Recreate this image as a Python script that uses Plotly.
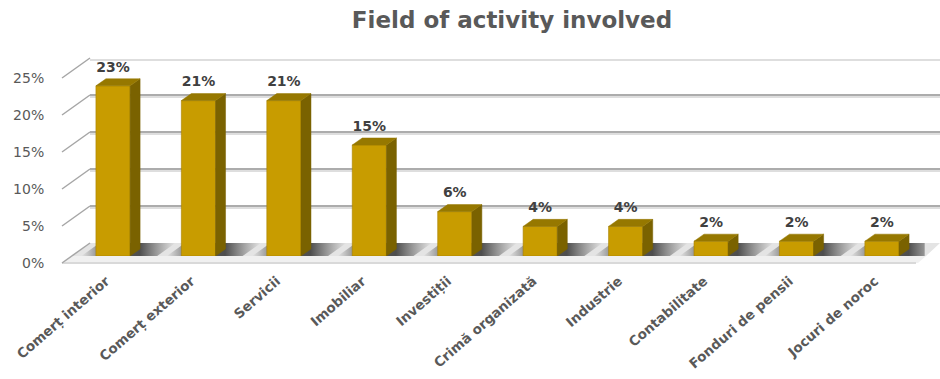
import plotly.graph_objects as go

# ---- data ----
categories = [
    "Comerț interior", "Comerț exterior", "Servicii", "Imobiliar", "Investiții",
    "Crimă organizată", "Industrie", "Contabilitate", "Fonduri de pensii", "Jocuri de noroc",
]
values = [23, 21, 21, 15, 6, 4, 4, 2, 2, 2]
y_ticks = [0, 5, 10, 15, 20, 25]
y_tick_labels = [f"{t}%" for t in y_ticks]
title_text = "Field of activity involved"

# ---- geometry of the pseudo-3D box (pixels) ----
W, H = 940, 379
PX_PER_PCT = 7.4
Y_MAX = 25
BACK_ZERO, BAR_ZERO, FRONT_ZERO = 243, 256, 263
WALL_FRONT_X, WALL_BACK_X = 62, 90
BAR_LEFT, BAR_RIGHT = 70.3, 924.7
HALF_W = 0.2            # half bar width in category units
DEPTH_X = 0.117         # bar depth, category units
DEPTH_Y = 0.95          # bar depth, percent units

FRONT = "#c89c00"
TOP = "#967800"
SIDE = "#7a6200"
TEXT = "#595959"
FONT = "DejaVu Sans"


def fx(x):
    return x / W


def fy(y):
    return 1 - y / H


def ydom(zero):
    return [fy(zero), fy(zero - Y_MAX * PX_PER_PCT)]


xdom_bars = [fx(BAR_LEFT), fx(BAR_RIGHT)]

fig = go.Figure()

# dummy traces so every subplot is created
fig.add_trace(go.Scatter(x=[None], y=[None], xaxis="x", yaxis="y",
                         showlegend=False, hoverinfo="skip"))
fig.add_trace(go.Scatter(x=[None], y=[None], xaxis="x4", yaxis="y4",
                         showlegend=False, hoverinfo="skip"))

# soft floor shadows around each bar base
floor_depth = (BAR_ZERO - BACK_ZERO) / PX_PER_PCT
slant = (BAR_ZERO - BACK_ZERO) * (WALL_BACK_X - WALL_FRONT_X) / (FRONT_ZERO - BACK_ZERO) \
    / ((BAR_RIGHT - BAR_LEFT) / len(categories))
for i, v in enumerate(values):
    x0, x1 = i - HALF_W - 0.17, i + HALF_W + DEPTH_X + 0.2
    fig.add_trace(go.Scatter(
        x=[x0, x1, x1 + slant, x0 + slant, x0],
        y=[0, 0, floor_depth, floor_depth, 0],
        mode="lines", line=dict(width=0), fill="toself",
        fillgradient=dict(type="horizontal", colorscale=[
            [0, "rgba(90,90,90,0)"], [0.28, "rgba(75,75,75,0.9)"],
            [0.62, "rgba(70,70,70,0.95)"], [1, "rgba(90,90,90,0)"]]),
        xaxis="x2", yaxis="y2", showlegend=False, hoverinfo="skip",
    ))

# bar front faces
fig.add_trace(go.Bar(
    x=list(range(len(categories))), y=values, width=2 * HALF_W,
    marker=dict(color=FRONT, line=dict(color="#a88200", width=0.6)),
    xaxis="x3", yaxis="y3", showlegend=False, hoverinfo="skip",
))

# side and top faces
side_x, side_y, top_x, top_y = [], [], [], []
for i, v in enumerate(values):
    r, l = i + HALF_W, i - HALF_W
    side_x += [r, r + DEPTH_X, r + DEPTH_X, r, r, None]
    side_y += [0, DEPTH_Y, v + DEPTH_Y, v, 0, None]
    top_x += [l, r, r + DEPTH_X, l + DEPTH_X, l, None]
    top_y += [v, v, v + DEPTH_Y, v + DEPTH_Y, v, None]
fig.add_trace(go.Scatter(x=side_x, y=side_y, mode="lines", fill="toself",
                         fillcolor=SIDE, line=dict(color=SIDE, width=0.5),
                         xaxis="x3", yaxis="y3", showlegend=False, hoverinfo="skip"))
fig.add_trace(go.Scatter(x=top_x, y=top_y, mode="lines", fill="toself",
                         fillcolor=TOP, line=dict(color=TOP, width=0.5),
                         xaxis="x3", yaxis="y3", showlegend=False, hoverinfo="skip"))

# value labels
fig.add_trace(go.Scatter(
    x=list(range(len(categories))), y=[v + DEPTH_Y + 0.5 for v in values],
    mode="text", text=[f"{v}%" for v in values], textposition="top center",
    textfont=dict(family=FONT, size=14, color="#404040", weight="bold"),
    xaxis="x3", yaxis="y3", showlegend=False, hoverinfo="skip", cliponaxis=False,
))

# ---- floor and left wall ----
shapes = []


def poly(points, fill, line_color=None, line_width=0):
    path = "M " + " L ".join(f"{fx(x)},{fy(y)}" for x, y in points) + " Z"
    return dict(type="path", path=path, xref="paper", yref="paper", layer="below",
                fillcolor=fill, line=dict(color=line_color or fill, width=line_width))


wall_dx = (WALL_BACK_X - WALL_FRONT_X) / (FRONT_ZERO - BACK_ZERO)
top_front_x = WALL_FRONT_X + (FRONT_ZERO - BAR_ZERO) * wall_dx
shapes.append(poly([(top_front_x, BAR_ZERO), (WALL_BACK_X, BACK_ZERO), (W, BACK_ZERO),
                    (W - 14, BAR_ZERO)], "#e4e4e4"))
shapes.append(poly([(WALL_FRONT_X, FRONT_ZERO), (top_front_x, BAR_ZERO), (W - 14, BAR_ZERO),
                    (W - 22, FRONT_ZERO)], "#f0f0f0"))
shapes.append(dict(type="line", xref="paper", yref="paper", layer="below",
                   x0=fx(WALL_FRONT_X), y0=fy(FRONT_ZERO), x1=fx(W - 24), y1=fy(FRONT_ZERO),
                   line=dict(color="#d9d9d9", width=2)))

for t in y_ticks:
    yf = FRONT_ZERO - t * PX_PER_PCT
    yb = BACK_ZERO - t * PX_PER_PCT
    shapes.append(dict(type="line", xref="paper", yref="paper", layer="below",
                       x0=fx(WALL_FRONT_X), y0=fy(yf), x1=fx(WALL_BACK_X), y1=fy(yb),
                       line=dict(color="#a6a6a6", width=1.5)))
    if t > 0:
        shapes.append(dict(type="line", xref="paper", yref="paper", layer="below",
                           x0=fx(WALL_BACK_X), y0=fy(yb + 2), x1=1, y1=fy(yb + 2),
                           line=dict(color="#dedede", width=2)))

hidden = dict(visible=False, fixedrange=True, automargin=False)

fig.update_layout(
    width=W, height=H,
    margin=dict(l=0, r=0, t=0, b=0, autoexpand=False),
    paper_bgcolor="white", plot_bgcolor="rgba(0,0,0,0)",
    showlegend=False,
    title=dict(text=title_text, x=512 / W, xanchor="center", y=fy(20), yanchor="middle",
               yref="container", automargin=False,
               font=dict(family=FONT, size=23, color=TEXT, weight="bold")),
    # back wall with gridlines
    xaxis=dict(domain=[fx(WALL_BACK_X), 1], range=[0, 1], anchor="y", **hidden),
    yaxis=dict(domain=ydom(BACK_ZERO), range=[0, Y_MAX], anchor="x",
               tickvals=y_ticks, showticklabels=False, ticks="",
               showgrid=True, gridcolor="#acacac", gridwidth=2, automargin=False,
               zeroline=False, showline=False, fixedrange=True),
    # floor shadows
    xaxis2=dict(domain=xdom_bars, range=[-0.5, 9.5], anchor="y2", **hidden),
    yaxis2=dict(domain=ydom(BAR_ZERO), range=[0, Y_MAX], anchor="x2", **hidden),
    # bars
    xaxis3=dict(domain=xdom_bars, range=[-0.5, 9.5], anchor="y3",
                tickvals=list(range(len(categories))), ticktext=categories,
                tickangle=-41, ticks="outside", ticklen=11, tickcolor="rgba(0,0,0,0)",
                ticklabelshift=-7,
                tickfont=dict(family=FONT, size=13.5, color=TEXT, weight="bold"),
                showgrid=False, zeroline=False, showline=False, fixedrange=True,
                automargin=False),
    yaxis3=dict(domain=ydom(BAR_ZERO), range=[0, Y_MAX], anchor="x3", **hidden),
    # value axis labels at the front edge
    xaxis4=dict(domain=[fx(WALL_FRONT_X), 1], range=[0, 1], anchor="y4", **hidden),
    yaxis4=dict(domain=ydom(FRONT_ZERO), range=[0, Y_MAX], anchor="x4",
                tickvals=y_ticks, ticktext=y_tick_labels,
                ticks="outside", ticklen=14, tickcolor="rgba(0,0,0,0)",
                tickfont=dict(family=FONT, size=14, color=TEXT),
                showgrid=False, zeroline=False, showline=False, fixedrange=True,
                automargin=False),
    shapes=shapes,
)

fig.write_html("out.html")
